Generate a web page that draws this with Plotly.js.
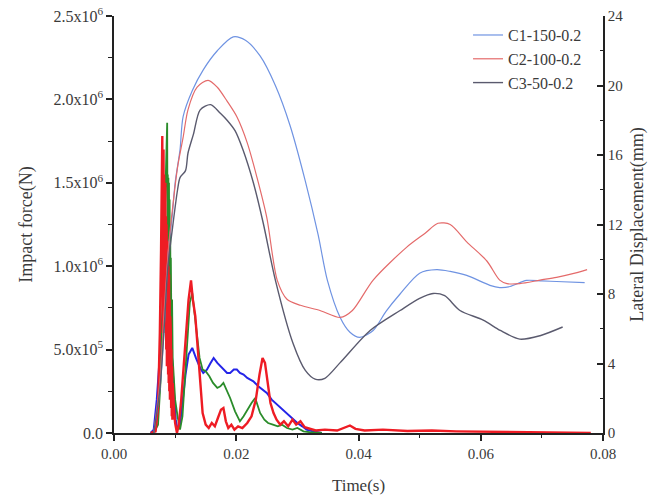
<!DOCTYPE html>
<html>
<head>
<meta charset="utf-8">
<script src="https://cdn.plot.ly/plotly-3.0.1.min.js"></script>
<style>html,body{margin:0;padding:0;background:#fff}#chart{width:653px;height:499px}</style>
</head>
<body>
<div id="chart"></div>
<script>
// ---- Lateral displacement (right axis, mm) ----
const seriesNames = ["C1-150-0.2", "C2-100-0.2", "C3-50-0.2"];

const c1Time = [0.0065,0.0075,0.0082,0.0089,0.0095,0.0100,0.0108,0.0113,0.0128,0.0146,0.0169,0.0195,0.0215,0.0239,0.0264,0.0288,0.0313,0.0334,0.0349,0.0370,0.0386,0.0402,0.0424,0.0445,0.0468,0.0500,0.0528,0.0550,0.0577,0.0615,0.0631,0.0648,0.0675,0.0700,0.0724,0.0770];
const c1Disp = [0,2.5,6.0,10.5,12.4,14.4,16.3,18.2,19.7,20.9,22.0,22.8,22.6,21.7,20.0,17.7,14.5,11.4,8.8,6.65,5.8,5.5,5.9,7.0,8.0,9.2,9.4,9.3,9.07,8.5,8.37,8.43,8.78,8.75,8.72,8.66];

const c2Time = [0.0065,0.0075,0.0082,0.0090,0.0097,0.0104,0.0113,0.0121,0.0136,0.0154,0.0169,0.0185,0.0201,0.0218,0.0234,0.0250,0.0267,0.0283,0.0305,0.0337,0.0370,0.0390,0.0424,0.0479,0.0509,0.0530,0.0550,0.0577,0.0610,0.0631,0.0643,0.0664,0.0697,0.0724,0.0754,0.0774];
const c2Disp = [0,3.0,7.0,11.0,13.3,15.3,17.0,18.6,19.9,20.3,19.9,19.1,18.2,16.7,14.7,12.4,8.8,7.7,7.35,7.05,6.65,7.05,8.8,10.7,11.5,12.07,12.0,11.0,9.9,8.8,8.6,8.6,8.8,8.96,9.2,9.4];

const c3Time = [0.0065,0.0075,0.0082,0.0088,0.0095,0.0104,0.0108,0.0117,0.0121,0.0130,0.0141,0.0158,0.0174,0.0185,0.0198,0.0211,0.0228,0.0244,0.0264,0.0293,0.0313,0.0329,0.0345,0.0370,0.0419,0.0468,0.0500,0.0522,0.0541,0.0566,0.0604,0.0632,0.0664,0.0697,0.0734];
const c3Disp = [0,2.5,6.0,9.5,11.6,14.0,14.7,15.1,16.1,17.2,18.6,18.9,18.4,18.0,17.4,16.3,14.4,12.1,8.8,5.15,3.6,3.1,3.15,4.05,5.9,7.05,7.75,8.03,7.9,7.05,6.5,5.9,5.4,5.6,6.1];

// ---- Impact force (left axis, N) ----
const redTime = [0.0060,0.0068,0.0072,0.0075,0.0077,0.0079,0.00800,0.00805,0.0081,0.00815,0.0082,0.00825,0.0083,0.00835,0.0084,0.00845,0.0085,0.00855,0.0086,0.00865,0.0087,0.00875,0.0088,0.00885,0.0089,0.00895,0.0090,0.00905,0.0091,0.00915,0.0092,0.00925,0.0093,0.00935,0.0094,0.00945,0.0095,0.00955,0.0096,0.0098,0.0100,0.0103,0.0106,0.0110,0.0114,0.0118,0.0122,0.0126,0.0129,0.0133,0.0137,0.0141,0.0145,0.0150,0.0155,0.0160,0.0165,0.0170,0.0175,0.0179,0.0183,0.0187,0.0192,0.0197,0.0203,0.0210,0.0218,0.0225,0.0232,0.0238,0.0243,0.0247,0.0251,0.0256,0.0261,0.0266,0.0272,0.0278,0.0285,0.0292,0.0298,0.0305,0.0312,0.0320,0.0330,0.0345,0.0365,0.0386,0.0395,0.0410,0.0440,0.0480,0.0520,0.0560,0.0600,0.0650,0.0700,0.0780];
const redForce = [0,10000,150000,600000,1100000,1780000,600000,1000000,1700000,900000,1550000,700000,1450000,800000,1500000,600000,1300000,500000,1250000,400000,1100000,450000,1150000,350000,1000000,300000,950000,250000,800000,200000,700000,300000,600000,150000,500000,100000,400000,80000,300000,150000,60000,0,50000,200000,400000,650000,800000,915000,800000,700000,500000,300000,120000,50000,30000,60000,40000,90000,140000,150000,70000,30000,50000,20000,40000,30000,60000,100000,200000,350000,450000,420000,300000,180000,120000,80000,50000,70000,40000,80000,50000,70000,35000,25000,15000,20000,15000,45000,25000,15000,20000,12000,15000,10000,8000,5000,3000,0];

const greenTime = [0.0065,0.0072,0.0076,0.0080,0.0083,0.0085,0.0087,0.00875,0.0088,0.00885,0.0089,0.00895,0.0090,0.00905,0.0091,0.00915,0.0092,0.00925,0.0093,0.0094,0.0095,0.0096,0.0098,0.0100,0.0104,0.0108,0.0112,0.0116,0.0120,0.0124,0.0128,0.0132,0.0136,0.0140,0.0145,0.0150,0.0156,0.0162,0.0169,0.0174,0.0179,0.0185,0.0190,0.0198,0.0206,0.0212,0.0218,0.0225,0.0231,0.0235,0.0239,0.0246,0.0252,0.0260,0.0268,0.0275,0.0283,0.0292,0.0300,0.0310,0.0320,0.0340];
const greenForce = [0,50000,300000,900000,1350000,1600000,1860000,1200000,1550000,1100000,1530000,1000000,1500000,900000,1400000,800000,1250000,700000,1050000,600000,800000,450000,350000,200000,100000,20000,100000,350000,600000,780000,840000,720000,580000,450000,380000,370000,340000,300000,270000,280000,300000,250000,210000,130000,70000,100000,140000,180000,210000,170000,120000,80000,60000,50000,40000,50000,30000,20000,30000,10000,5000,0];

const blueTime = [0.0060,0.0065,0.0070,0.0075,0.0080,0.0083,0.0086,0.0089,0.0092,0.0095,0.0098,0.0101,0.0104,0.0108,0.0112,0.0117,0.0122,0.0128,0.0134,0.0141,0.0146,0.0152,0.0158,0.0163,0.0169,0.0174,0.0180,0.0185,0.0190,0.0196,0.0201,0.0206,0.0212,0.0218,0.0223,0.0228,0.0236,0.0244,0.0250,0.0258,0.0267,0.0276,0.0282,0.0288,0.0294,0.0300,0.0308,0.0315,0.0325,0.0340];
const blueForce = [0,20000,200000,450000,730000,1000000,1200000,1000000,700000,450000,250000,80000,20000,50000,180000,350000,470000,510000,450000,390000,360000,380000,420000,450000,420000,400000,380000,360000,360000,380000,380000,360000,350000,330000,320000,310000,280000,260000,240000,200000,170000,140000,120000,100000,80000,60000,40000,20000,10000,0];

// tick labels
const forceTickVals = [0, 500000, 1000000, 1500000, 2000000, 2500000];
const forceTickText = ["0.0", "5.0x10<sup>5</sup>", "1.0x10<sup>6</sup>", "1.5x10<sup>6</sup>", "2.0x10<sup>6</sup>", "2.5x10<sup>6</sup>"];
const timeTickVals = [0, 0.02, 0.04, 0.06, 0.08];
const timeTickText = ["0.00", "0.02", "0.04", "0.06", "0.08"];
const dispTickVals = [0, 4, 8, 12, 16, 20, 24];

const FONT = "Liberation Serif, Times New Roman, serif";
const TXT = "#3a3a3a";

const traces = [
  {x: c1Time, y: c1Disp, name: seriesNames[0], yaxis: "y2", mode: "lines", line: {color: "#6f93e2", width: 1.2, shape: "spline", smoothing: 0.8}},
  {x: c2Time, y: c2Disp, name: seriesNames[1], yaxis: "y2", mode: "lines", line: {color: "#e46a6a", width: 1.2, shape: "spline", smoothing: 0.8}},
  {x: c3Time, y: c3Disp, name: seriesNames[2], yaxis: "y2", mode: "lines", line: {color: "#5a5a6e", width: 1.4, shape: "spline", smoothing: 0.8}},
  {x: blueTime, y: blueForce, yaxis: "y", mode: "lines", showlegend: false, line: {color: "#2424e8", width: 2}},
  {x: greenTime, y: greenForce, yaxis: "y", mode: "lines", showlegend: false, line: {color: "#2a8c2a", width: 1.8}},
  {x: redTime, y: redForce, yaxis: "y", mode: "lines", showlegend: false, line: {color: "#ee1c24", width: 2.4}}
];

const layout = {
  width: 653, height: 499,
  margin: {l: 114, r: 50, t: 16, b: 66},
  paper_bgcolor: "#fff", plot_bgcolor: "#fff",
  font: {family: FONT, size: 15, color: TXT},
  showlegend: true,
  legend: {x: 0.724, y: 0.995, xanchor: "left", yanchor: "top", bgcolor: "rgba(0,0,0,0)", font: {family: FONT, size: 16, color: TXT}, tracegroupgap: 0},
  xaxis: {
    range: [0, 0.08], tickvals: timeTickVals, ticktext: timeTickText,
    showline: true, linecolor: "#222", linewidth: 1.5, mirror: false,
    ticks: "outside", ticklen: 6, tickwidth: 1.5, tickcolor: "#222",
    tickfont: {family: FONT, size: 15, color: TXT},
    minor: {tickvals: [0.01, 0.03, 0.05, 0.07], ticks: "outside", ticklen: 3, tickwidth: 1.2, tickcolor: "#222"},
    showgrid: false, zeroline: false,
    title: {text: "Time(s)", font: {family: FONT, size: 17, color: TXT}, standoff: 18}
  },
  yaxis: {
    range: [0, 2500000], tickvals: forceTickVals, ticktext: forceTickText,
    showline: true, linecolor: "#222", linewidth: 1.5,
    ticks: "outside", ticklen: 6, tickwidth: 1.5, tickcolor: "#222",
    tickfont: {family: FONT, size: 16, color: TXT},
    minor: {tickvals: [250000, 750000, 1250000, 1750000, 2250000], ticks: "outside", ticklen: 4, tickwidth: 1.2, tickcolor: "#222"},
    showgrid: false, zeroline: false,
    title: {text: "Impact force(N)", font: {family: FONT, size: 18, color: TXT}, standoff: 16}
  },
  yaxis2: {
    overlaying: "y", side: "right", anchor: "x",
    range: [0, 24], tickvals: dispTickVals,
    showline: true, linecolor: "#222", linewidth: 1.5,
    ticks: "inside", ticklen: 6, tickwidth: 1.5, tickcolor: "#222",
    tickfont: {family: FONT, size: 15, color: TXT},
    minor: {tickvals: [2, 6, 10, 14, 18, 22], ticks: "inside", ticklen: 3, tickwidth: 1.2, tickcolor: "#222"},
    showgrid: false, zeroline: false,
    title: {text: "Lateral Displacement(mm)", font: {family: FONT, size: 18, color: TXT}, standoff: 8}
  }
};

Plotly.newPlot("chart", traces, layout, {displayModeBar: false, responsive: false});
</script>
</body>
</html>
